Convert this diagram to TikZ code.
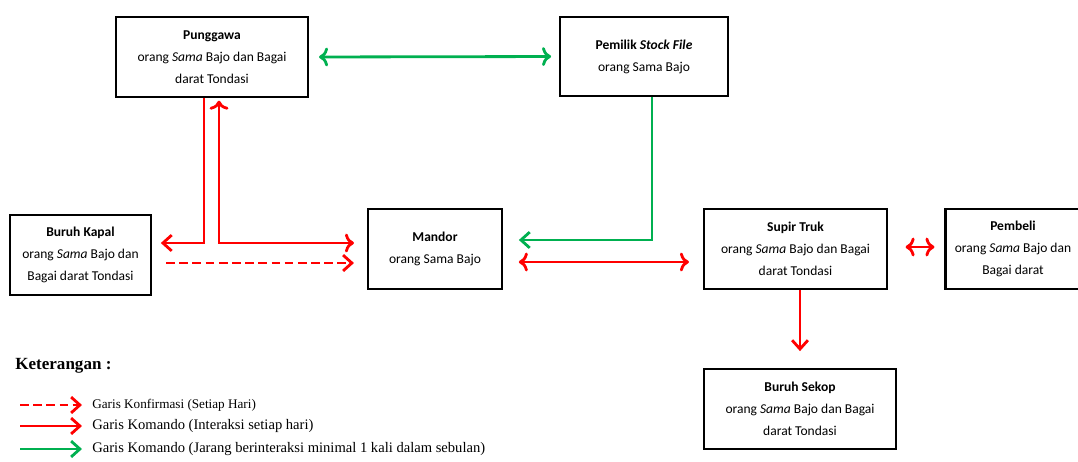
\documentclass[tikz,border=0pt]{standalone}
\usepackage{fontspec}
\setmainfont{Carlito}
\newfontfamily\legendfont{Liberation Serif}
\usetikzlibrary{arrows.meta}
\definecolor{hijau}{RGB}{0,176,80}
\tikzset{
  kotak/.style={draw,line width=1.2pt,align=center,font=\fontsize{7.7}{12.6}\selectfont},
  merah/.style={draw=red,line width=1.6pt,arrows={-Straight Barb[length=5pt,width=9pt]}},
  hijau/.style={draw=hijau,line width=1.6pt,arrows={-Straight Barb[length=5pt,width=9pt]}},
  putus/.style={dash pattern=on 5pt off 2.5pt},
  ket/.style={anchor=west,inner sep=0pt,font=\legendfont\fontsize{8.3}{10}\selectfont}
}
\begin{document}
\begin{tikzpicture}[x=0.02cm,y=-0.02cm]
    \useasboundingbox (0,0) rectangle (1078,461);
    %% boxes
    \node[kotak,minimum width=3.84cm,minimum height=1.6cm] (P) at (212,57) {\textbf{Punggawa}\\orang \textit{Sama} Bajo dan Bagai\\darat Tondasi};
    \node[kotak,minimum width=3.36cm,minimum height=1.58cm] (PS) at (644,56.5) {\textbf{Pemilik \textit{Stock File}}\\orang Sama Bajo};
    \node[kotak,minimum width=2.82cm,minimum height=1.6cm] (BK) at (80.5,255) {\textbf{Buruh Kapal}\\orang \textit{Sama} Bajo dan\\Bagai darat Tondasi};
    \node[kotak,minimum width=2.68cm,minimum height=1.6cm] (M) at (435,249) {\textbf{Mandor}\\orang Sama Bajo};
    \node[kotak,minimum width=3.66cm,minimum height=1.6cm] (S) at (795.5,249) {\textbf{Supir Truk}\\orang \textit{Sama} Bajo dan Bagai\\darat Tondasi};
    \node[kotak,minimum width=2.7cm,minimum height=1.6cm] (PB) at (1013,249) {\textbf{Pembeli}\\orang \textit{Sama} Bajo dan\\Bagai darat};
    \node[kotak,minimum width=3.84cm,minimum height=1.6cm] (SK) at (800,409) {\textbf{Buruh Sekop}\\orang \textit{Sama} Bajo dan Bagai\\darat Tondasi};
    %% turning points
    \coordinate (t1) at (204,243);
    \coordinate (t2) at (219,243);
    \coordinate (t3) at (0,263);
    \coordinate (t4) at (652,240);
    \coordinate (t5) at (0,262);
    \coordinate (t6) at (0,247);
    \coordinate (t7) at (800,0);
    %% connectors
    \draw[hijau,<->,shorten <=5.7pt,shorten >=4.5pt] (P.east) -- (PS.west);
    \draw[merah,shorten >=5pt] (P.south -| t1) |- (BK.east |- t1);
    \draw[merah,<->,shorten <=1.5pt,shorten >=7.4pt] (P.south -| t2) |- (M.west |- t2);
    \draw[merah,putus,shorten <=8pt,shorten >=7.4pt] (BK.east |- t3) -- (M.west |- t3);
    \draw[hijau,shorten >=9pt] (PS.south -| t4) |- (M.east |- t4);
    \draw[merah,<->,shorten <=9pt,shorten >=8pt] (M.east |- t5) -- (S.west |- t5);
    \draw[merah,<->,shorten <=10pt,shorten >=5.7pt] (S.east |- t6) -- (PB.west |- t6);
    \draw[merah,shorten >=9.6pt] (S.south -| t7) -- (SK.north -| t7);
    %% legend
    \node[anchor=west,inner sep=0pt,font=\legendfont\fontsize{9.7}{12}\selectfont\bfseries] (K) at (15,366) {Keterangan :};
    \coordinate (l1a) at (20,405); \coordinate (l1b) at (82,405);
    \coordinate (l2a) at (20,426); \coordinate (l2b) at (82,426);
    \coordinate (l3a) at (20,449); \coordinate (l3b) at (82,449);
    \draw[merah,putus] (l1a) -- (l1b);
    \draw[merah] (l2a) -- (l2b);
    \draw[hijau] (l3a) -- (l3b);
    \node[ket,font=\legendfont\fontsize{7.5}{10}\selectfont] (g1) at (92,405) {Garis Konfirmasi (Setiap Hari)};
    \node[ket] (g2) at (92,426) {Garis Komando (Interaksi setiap hari)};
    \node[ket] (g3) at (92,449) {Garis Komando (Jarang berinteraksi minimal 1 kali dalam sebulan)};
\end{tikzpicture}
\end{document}
